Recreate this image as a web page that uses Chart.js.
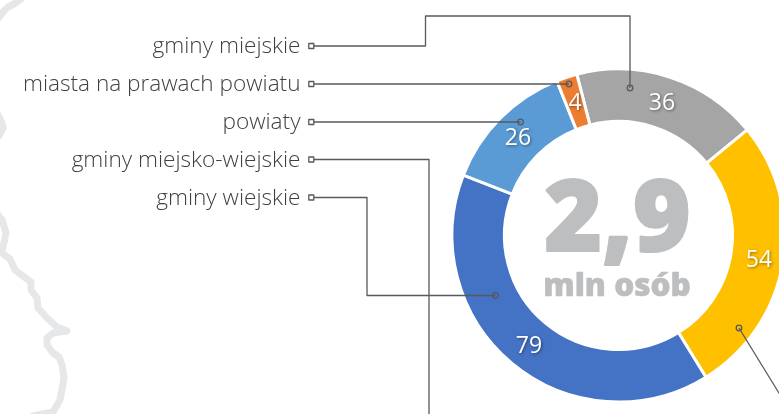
<!DOCTYPE html>
<html><head><meta charset="utf-8">
<style>html,body{margin:0;padding:0;background:#fff;overflow:hidden;width:779px;height:414px}canvas{display:block}</style>
<script src="https://cdn.jsdelivr.net/npm/chart.js@4"></script>
</head><body>
<canvas id="c" width="800" height="414" style="width:800px;height:414px"></canvas>
<script>
const categories = ["gminy miejskie","gminy miejsko-wiejskie","gminy wiejskie","powiaty","miasta na prawach powiatu"];
const sliceLabels = ["36","54","79","26","4"];
const values = [36,54,79,26,4];
const colors = ["#a5a5a5","#ffc000","#4472c4","#5b9bd5","#ed7d31"];
const centerBig = "2,9";
const centerSmall = "mln osób";
const legendOrder = ["gminy miejskie","miasta na prawach powiatu","powiaty","gminy miejsko-wiejskie","gminy wiejskie"];
const legendY = [46,84,122,159.5,197.5];
const labelPos = [[662,103],[759,260],[529,346],[518,138],[575,103]];
const leaders = [
 {pts:[[314,46],[425.5,46],[425.5,16],[630,16],[630,88]],dot:true},
 {pts:[[314,84],[569,84]],dot:true},
 {pts:[[314,122],[520.5,122]],dot:true},
 {pts:[[314,159.5],[429,159.5],[429,420]],dot:false},
 {pts:[[314,197.5],[367,197.5],[367,295.5],[495.5,295.5]],dot:true},
 {pts:[[739,328],[782,398]],dot:true,startDot:true}
];
const outline1 = [[-3,20],[3,12],[8,7],[14,4],[21,-1]];
const outline2 = [[-2,115],[2,123],[3,128],[-1,136]];
const outline3 = [[-2,215],[2,220],[6,233],[3,247],[2,253],[10,259],[15,270],[23,276],[31,282],[31,290],[37,298],[38,308],[47,318],[57,327],[67,331],[53,333],[47,338],[47,345],[53,353],[59,357],[62,365],[64,378],[60,400],[53,412],[33,416]];

const decor = {
 id:'decor',
 beforeDraw(chart){
  const c=chart.ctx;c.save();
  c.strokeStyle='#e6e7e8';c.lineWidth=7;c.lineJoin='round';c.lineCap='round';
  [outline1,outline2,outline3].forEach(o=>{c.beginPath();o.forEach((p,i)=>i?c.lineTo(p[0],p[1]):c.moveTo(p[0],p[1]));c.stroke();});
  c.restore();
 },
 afterDraw(chart){
  const c=chart.ctx;c.save();
  const cx=chart.getDatasetMeta(0).data[0].x;
  c.textAlign='center';c.textBaseline='alphabetic';c.fillStyle='#bcbec0';c.strokeStyle='#bcbec0';c.lineJoin='round';
  c.font='800 99px "Open Sans"';c.lineWidth=2;c.fillText(centerBig,cx-1,251);c.strokeText(centerBig,cx-1,251);
  c.font='800 31.5px "Open Sans"';c.lineWidth=0.6;c.fillText(centerSmall,cx-1.5,296);c.strokeText(centerSmall,cx-1.5,296);
  c.font='400 23px "Open Sans"';
  sliceLabels.forEach((t,i)=>{
   c.save();c.shadowColor='rgba(0,0,0,0.45)';c.shadowBlur=3;c.shadowOffsetX=1;c.shadowOffsetY=1;
   c.fillStyle='#fff';c.textAlign='center';c.textBaseline='middle';
   c.fillText(t,labelPos[i][0],labelPos[i][1]);c.restore();
  });
  c.strokeStyle='#58595b';c.lineWidth=1.3;
  leaders.forEach(l=>{
   c.beginPath();l.pts.forEach((p,i)=>i?c.lineTo(p[0],p[1]):c.moveTo(p[0],p[1]));c.stroke();
   if(l.dot){const p=l.startDot?l.pts[0]:l.pts[l.pts.length-1];c.beginPath();c.arc(p[0],p[1],2.8,0,7);c.stroke();}
  });
  c.textAlign='right';c.textBaseline='middle';c.font='300 22.6px "Open Sans"';
  legendOrder.forEach((t,i)=>{
   c.fillStyle='#404041';
   c.fillText(t,300.5,legendY[i]+1);
   c.fillStyle='#fff';c.fillRect(308.8,legendY[i]-2.5,5,5);
   c.strokeRect(308.8,legendY[i]-2.5,5,5);
  });
  c.restore();
 }
};
new Chart(document.getElementById('c'),{
 type:'doughnut',
 data:{labels:categories,datasets:[{data:values,backgroundColor:colors,borderColor:'#fff',borderWidth:3,borderAlign:'center'}]},
 options:{
  responsive:false,animation:false,
  rotation:-14.5,cutout:'68.5%',
  layout:{padding:{left:450,right:13,top:67.5,bottom:10.5}},
  plugins:{legend:{display:false},tooltip:{enabled:false}}
 },
 plugins:[decor]
});
</script>
</body></html>
